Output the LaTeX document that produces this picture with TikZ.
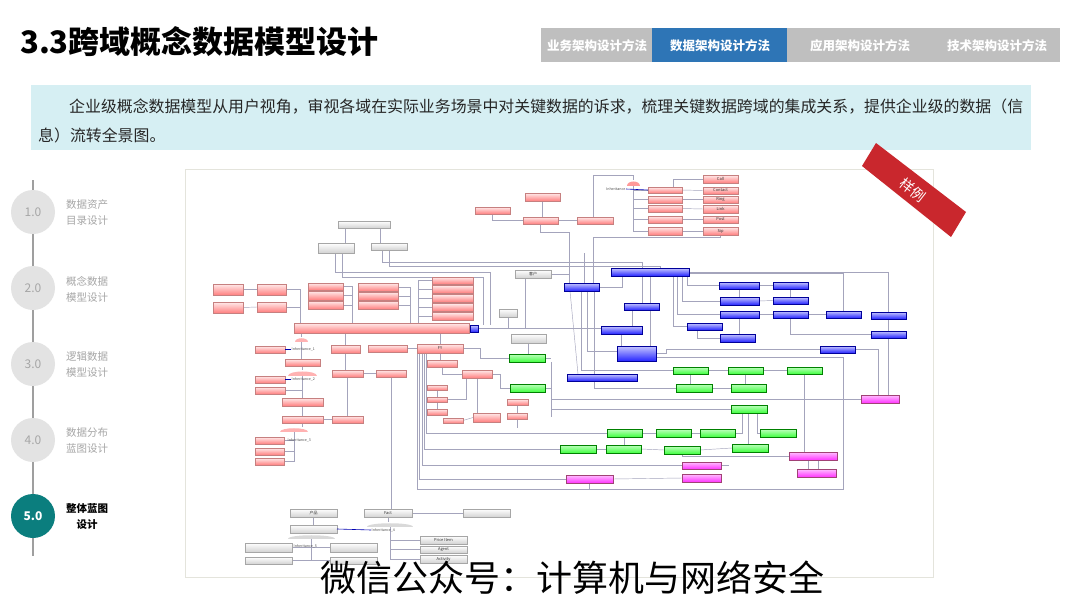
\documentclass[tikz,border=0pt]{standalone}
\usepackage{fontspec}
\setmainfont{Noto Sans CJK SC}
\definecolor{tabgray}{HTML}{BFBFBF}
\definecolor{tabblue}{HTML}{2E75B6}
\definecolor{boxcyan}{HTML}{D6EFF3}
\definecolor{tealfive}{HTML}{0B7E7E}
\definecolor{circgray}{HTML}{E3E3E3}
\definecolor{txtgray}{HTML}{A6A6A6}
\definecolor{ribbonred}{HTML}{C9272D}
\definecolor{lnk}{HTML}{A4A4BC}
\definecolor{framegray}{HTML}{E4E4DC}
\pgfdeclarelayer{bg}
\pgfsetlayers{bg,main}
\newcommand{\bx}[7]{\node[#1,minimum width={(#5-#3)*1pt},minimum height={(#6-#4)*1pt}] (#2) at (#3,#4) {#7};}
\newcommand{\pill}[6]{\node[inner sep=0pt,outer sep=0pt,anchor=north west,minimum width={(#4-#2)*1pt},minimum height={(#5-#3)*1pt}] (#1) at (#2,#3) {};
  \fill[#6] (#1.south west) .. controls (#1.north west) and (#1.north east) .. (#1.south east) -- cycle;}
\begin{document}
\begin{tikzpicture}[x=1pt,y=-1pt,
  bxb/.style={draw,line width=0.3pt,inner sep=0pt,outer sep=0pt,anchor=north west,font=\fontsize{4}{4}\selectfont,text=black!80},
  rbx/.style={bxb,draw=red!55!black!50,top color=red!8,bottom color=red!50!white},
  bbx/.style={bxb,draw=blue!60!black,top color=blue!22,bottom color=blue!85!white,text=white},
  gbx/.style={bxb,draw=green!50!black,top color=green!25,bottom color=green!75!white},
  ybx/.style={bxb,draw=gray!70,top color=white,bottom color=gray!35},
  mbx/.style={bxb,draw=magenta!60!black,top color=magenta!25,bottom color=magenta!80!white},
  lk/.style={draw=lnk,line width=0.45pt},
  blk/.style={draw=blue!70!black,line width=0.6pt},
  tiny/.style={inner sep=0.5pt,font=\fontsize{3.6}{4}\selectfont,text=black!70},
  tabtxt/.style={text=white,font=\bfseries\fontsize{12.5}{14}\selectfont},
  stepc/.style={circle,fill=circgray,minimum size=44pt,inner sep=0pt,text=txtgray,font=\fontsize{12}{14}\selectfont},
  stepl/.style={align=center,text=txtgray,font=\fontsize{10.5}{16}\selectfont}
]
\useasboundingbox (0,0) rectangle (1080,608);
\begin{pgfonlayer}{bg}
\fill[white] (0,0) rectangle (1080,608);
\filldraw[fill=white,draw=framegray,line width=0.8pt] (185,169) rectangle (933,577);
\end{pgfonlayer}

% title
\node[anchor=west,font=\bfseries\fontsize{31}{36}\selectfont,inner sep=0pt] (title) at (20,42) {3.3跨域概念数据模型设计};

% tabs
\fill[tabgray] (541,28) rectangle (1060,62);
\fill[tabblue] (652,28) rectangle (787,62);
\node[tabtxt] (t1) at (597,46) {业务架构设计方法};
\node[tabtxt] (t2) at (720,46) {数据架构设计方法};
\node[tabtxt] (t3) at (860,46) {应用架构设计方法};
\node[tabtxt] (t4) at (997,46) {技术架构设计方法};

% intro box
\fill[boxcyan] (31,85) rectangle (1031,150);
\node[anchor=west,inner sep=0pt,text=black!85,font=\fontsize{15.9}{18}\selectfont] (intro1) at (69,107) {企业级概念数据模型从用户视角，审视各域在实际业务场景中对关键数据的诉求，梳理关键数据跨域的集成关系，提供企业级的数据（信};
\node[anchor=west,inner sep=0pt,text=black!85,font=\fontsize{15.9}{18}\selectfont] (intro2) at (38,135) {息）流转全景图。};

% timeline
\draw[gray!75,line width=1.6pt] (33,180) -- (33,556);
\node[stepc] (s1) at (33,212) {1.0};
\node[stepc] (s2) at (33,288) {2.0};
\node[stepc] (s3) at (33,364) {3.0};
\node[stepc] (s4) at (33,440) {4.0};
\node[stepc,fill=tealfive,text=white,font=\bfseries\fontsize{12}{14}\selectfont] (s5) at (33,516) {5.0};
\node[stepl] (l1) at (87,213) {数据资产\\目录设计};
\node[stepl] (l2) at (87,289) {概念数据\\模型设计};
\node[stepl] (l3) at (87,365) {逻辑数据\\模型设计};
\node[stepl] (l4) at (87,441) {数据分布\\蓝图设计};
\node[stepl,text=black,font=\bfseries\fontsize{10.5}{16}\selectfont] (l5) at (87,517) {整体蓝图\\设计};

% ---------------- embedded model: boxes ----------------
% red
\bx{rbx}{r1}{525}{193}{560}{201}{}
\bx{rbx}{r2}{475}{207}{510}{214}{}
\bx{rbx}{r3}{523}{217}{558}{224}{}
\bx{rbx}{r4}{577}{217}{613}{224}{}
\bx{rbx}{r5}{213}{284}{243}{295}{}
\bx{rbx}{r6}{257}{284}{286}{295}{}
\bx{rbx}{r7}{213}{302}{243}{313}{}
\bx{rbx}{r8}{257}{302}{286}{312}{}
\bx{rbx}{r9}{308}{283}{343}{290}{}
\bx{rbx}{r10}{308}{291}{343}{300}{}
\bx{rbx}{r11}{308}{301}{343}{309}{}
\bx{rbx}{r12}{358}{283}{398}{291}{}
\bx{rbx}{r13}{358}{292}{398}{300}{}
\bx{rbx}{r14}{358}{301}{398}{309}{}
\bx{rbx}{r15}{432}{277}{473}{284}{}
\bx{rbx}{r16}{432}{285.5}{473}{293}{}
\bx{rbx}{r17}{432}{294.5}{473}{302}{}
\bx{rbx}{r18}{432}{303.5}{473}{311}{}
\bx{rbx}{r19}{432}{312.5}{473}{320}{}
\bx{rbx}{rbar}{294}{323}{469}{333}{}
\bx{rbx}{r20}{255}{346}{285}{353}{}
\bx{rbx}{r21}{331}{345}{360}{353}{}
\bx{rbx}{r22}{368}{345}{407}{352}{}
\bx{rbx}{r23}{417}{344}{463}{353}{FY}
\bx{rbx}{r24}{285}{359}{320}{366}{}
\bx{rbx}{r25}{427}{360}{457}{367}{}
\bx{rbx}{r26}{255}{376}{285}{383}{}
\bx{rbx}{r27}{255}{387}{285}{394}{}
\bx{rbx}{r28}{282}{398}{323}{406}{}
\bx{rbx}{r29}{282}{416}{323}{423}{}
\bx{rbx}{r30}{332}{416}{363}{423}{}
\bx{rbx}{r31}{332}{370}{363}{377}{}
\bx{rbx}{r32}{376}{370}{406}{377}{}
\bx{rbx}{r33}{255}{437}{284}{444}{}
\bx{rbx}{r34}{255}{448}{284}{455}{}
\bx{rbx}{r35}{255}{458}{284}{465}{}
\bx{rbx}{r36}{427}{385}{447}{390}{}
\bx{rbx}{r37}{427}{397}{447}{402}{}
\bx{rbx}{r38}{427}{409}{447}{415}{}
\bx{rbx}{r39}{443}{418}{463}{423}{}
\bx{rbx}{r40}{473}{413}{500}{422}{}
\bx{rbx}{r41}{507}{413}{527}{419}{}
\bx{rbx}{r42}{507}{399}{528}{405}{}
\bx{rbx}{r43}{462}{370}{492}{378}{}
\bx{rbx}{c1}{703}{175}{738}{183}{Call}
\bx{rbx}{c2}{703}{187}{738}{194}{Contact}
\bx{rbx}{c3}{703}{196}{738}{203}{Ring}
\bx{rbx}{c4}{703}{205}{738}{213}{Link}
\bx{rbx}{c5}{703}{216}{738}{223}{Post}
\bx{rbx}{c6}{703}{227}{738}{235}{Sip}
\bx{rbx}{c7}{648}{187}{682}{193}{}
\bx{rbx}{c8}{648}{196}{682}{203}{}
\bx{rbx}{c9}{648}{205}{682}{212}{}
\bx{rbx}{c10}{648}{216}{682}{223}{}
\bx{rbx}{c11}{648}{227}{682}{235}{}
% gray
\bx{ybx}{g1}{338}{221}{390}{228}{}
\bx{ybx}{g2}{318}{243}{354}{253}{}
\bx{ybx}{g3}{371}{243}{407}{250}{}
\bx{ybx}{g4}{515}{270}{551}{278}{客户}
\bx{ybx}{g5}{499}{309}{517}{317}{}
\bx{ybx}{g6}{511}{334}{546}{343}{}
\bx{ybx}{g7}{290}{509}{337}{517}{产品}
\bx{ybx}{g8}{364}{509}{412}{517}{Fact}
\bx{ybx}{g9}{463}{509}{510}{517}{}
\bx{ybx}{g10}{290}{525}{337}{533}{}
\bx{ybx}{g11}{245}{543}{292}{552}{}
\bx{ybx}{g12}{330}{543}{377}{552}{}
\bx{ybx}{g13}{245}{557}{292}{564}{}
\bx{ybx}{g14}{330}{557}{377}{564}{}
\bx{ybx}{g15}{420}{536}{467}{544}{Price Item}
\bx{ybx}{g16}{420}{546}{467}{553}{Agent}
\bx{ybx}{g17}{420}{555}{467}{563}{Activity}
% blue
\bx{bbx}{b1}{611}{268}{689}{276}{}
\bx{bbx}{b2}{564}{283}{599}{291}{}
\bx{bbx}{b3}{719}{282}{759}{289}{}
\bx{bbx}{b4}{773}{282}{808}{289}{}
\bx{bbx}{b5}{720}{297}{759}{305}{}
\bx{bbx}{b6}{773}{297}{808}{304}{}
\bx{bbx}{b7}{720}{311}{759}{318}{}
\bx{bbx}{b8}{773}{311}{808}{318}{}
\bx{bbx}{b9}{826}{311}{861}{318}{}
\bx{bbx}{b10}{871}{312}{906}{319}{}
\bx{bbx}{b11}{624}{303}{659}{310}{}
\bx{bbx}{b12}{601}{326}{642}{334}{}
\bx{bbx}{b13}{687}{323}{722}{330}{}
\bx{bbx}{b14}{720}{334}{755}{342}{}
\bx{bbx}{b15}{871}{331}{906}{338}{}
\bx{bbx}{b16}{617}{346}{656}{361}{}
\bx{bbx}{b17}{820}{346}{855}{353}{}
\bx{bbx}{b18}{567}{374}{637}{381}{}
\bx{bbx}{b19}{470}{325}{478}{332}{}
% green
\bx{gbx}{gr1}{509}{354}{545}{362}{}
\bx{gbx}{gr2}{510}{384}{545}{392}{}
\bx{gbx}{gr3}{673}{367}{708}{374}{}
\bx{gbx}{gr4}{728}{367}{763}{374}{}
\bx{gbx}{gr5}{787}{367}{822}{374}{}
\bx{gbx}{gr6}{676}{384}{712}{392}{}
\bx{gbx}{gr7}{731}{384}{766}{392}{}
\bx{gbx}{gr8}{731}{405}{767}{413}{}
\bx{gbx}{gr9}{607}{429}{642}{437}{}
\bx{gbx}{gr10}{656}{429}{691}{437}{}
\bx{gbx}{gr11}{700}{429}{735}{437}{}
\bx{gbx}{gr12}{760}{429}{796}{437}{}
\bx{gbx}{gr13}{560}{445}{596}{453}{}
\bx{gbx}{gr14}{606}{445}{641}{453}{}
\bx{gbx}{gr15}{664}{446}{700}{454}{}
\bx{gbx}{gr16}{732}{444}{768}{452}{}
% magenta
\bx{mbx}{m1}{861}{395}{899}{403}{}
\bx{mbx}{m2}{789}{452}{837}{460}{}
\bx{mbx}{m3}{682}{462}{721}{469}{}
\bx{mbx}{m4}{797}{469}{836}{477}{}
\bx{mbx}{m5}{566}{475}{613}{483}{}
\bx{mbx}{m6}{682}{474}{721}{482}{}
% pills
\pill{p1}{295}{337}{308}{342}{red!30}
\pill{p2}{288}{370}{317}{376}{red!30}
\pill{p3}{280}{427}{308}{432}{red!30}
\pill{p4}{367}{522}{413}{527}{gray!30}
\pill{p5}{288}{534}{335}{539}{gray!30}
\pill{p6}{627}{180}{640}{186}{red!40}
% inheritance labels
\node[tiny,anchor=east] (i0) at (626,189) {Inheritance};
\node[tiny,anchor=west] (i1) at (291,349.5) {Inheritance\_1};
\node[tiny,anchor=west] (i2) at (291,379.5) {Inheritance\_2};
\node[tiny,anchor=west] (i3) at (287,440.5) {Inheritance\_3};
\node[tiny,anchor=west] (i4) at (371,530) {Inheritance\_4};
\node[tiny,anchor=west] (i5) at (293,546) {Inheritance\_5};

% ---------------- connectors ----------------
\begin{pgfonlayer}{bg}
\draw[lk] (r1.south) -- (r1.south |- r3.north);
\draw[lk] (r2.south) |- (r3.west);
\draw[lk] (r3.east) -- (r4.west);
\draw[lk] (r3.south) -- ++(0,8) -| ([xshift=5pt]b2.north west);
\draw[lk] ([xshift=-2pt]r4.north) -- ++(0,-42) -| (p6.north);
\foreach \c in {c7,c8,c9,c10,c11} \draw[lk] (p6.south) |- (\c.west);
\draw[lk] (c7.east) -- (c2.west);
\draw[lk] (c8.east) -- (c3.west);
\draw[lk] (c9.east) -- (c4.west);
\draw[lk] (c10.east) -- (c5.west);
\draw[lk] (c11.east) -- (c6.west);
\draw[lk] (c1.west) -| ([xshift=8pt]c7.north);
\draw[lk] (c6.south) -- ++(0,2) -| ([xshift=29pt]b2.north west);
\draw[lk] ([xshift=20pt]b2.north west) -- ++(0,-30);
\draw[lk] (b2.east) -| ([xshift=11pt]b1.south west);
\draw[lk] ([xshift=11pt]g3.south west) -- ++(0,12) -| ([xshift=31pt]b1.north west);
\draw[lk] ([xshift=18pt]g3.south west) -- ++(0,16) -| ([xshift=49pt]b1.north west);
\draw[lk] ([xshift=17pt]g2.south west) -- ++(0,19) -| ([xshift=12pt]b19.north east);
\draw[lk] ([xshift=24pt]g2.south west) -- ++(0,24) -| ([xshift=5pt]b19.north east);
\draw[lk] ([xshift=7pt]g1.south west) -- ([xshift=27pt]g2.north west);
\draw[lk] ([xshift=42pt]g1.south west) -- ([xshift=9pt]g3.north west);
\draw[lk] (b1.east) -| (b10.north);
\draw[lk] ([yshift=-1.5pt]b1.east) -| (b9.north);
\draw[lk] ([xshift=-2pt]b1.south east) |- (b3.west);
\draw[lk] ([xshift=-7pt]b1.south east) |- (b5.west);
\draw[lk] ([xshift=-12pt]b1.south east) |- (b7.west);
\draw[lk] ([xshift=-16pt]b1.south east) |- (b13.west);
\draw[lk] (b3.east) -- (b4.west);
\draw[lk] (b5.east) -- (b6.west);
\draw[lk] (b7.east) -- (b8.west);
\draw[lk] (b8.east) -- (b9.west);
\draw[lk] (b3.south) -- (b3.south |- b5.north);
\draw[lk] (b4.south) -- (b4.south |- b6.north);
\draw[lk] (b7.south) -- (b7.south |- b14.north);
\draw[lk] ([xshift=10pt]b13.south west) |- (b14.west);
\draw[lk] ([xshift=17pt]b8.south west) |- (b15.west);
\draw[lk] (b10.south) -- (b15.north);
\draw[lk] ([xshift=31pt]b1.south west) -- ([xshift=18pt]b11.north west);
\draw[lk] ([xshift=8pt]b11.south west) -- ([xshift=31pt]b12.north west);
\draw[lk] ([xshift=39pt]b1.south west) -- ([xshift=33pt]b16.north west);
\draw[lk] (rbar.east) -- (b19.west);
\draw[lk] (b19.east) -- (b19.east -| b12.west);
\draw[lk] ([xshift=6pt]b2.south west) -- ([xshift=11pt]b18.north west);
\draw[lk] ([xshift=17pt]b2.south west) |- (gr3.west);
\draw[lk] ([xshift=23pt]b2.south west) |- ([yshift=2pt]b16.west);
\draw[lk] ([xshift=30pt]b2.south west) |- (gr6.west);
\draw[lk] (b12.south) -- ++(0,12);
\draw[lk] (b16.east) -- ++(10,0) |- (b17.west);
\draw[lk] ([yshift=-3.5pt]b16.east) -| (843,489) -| (r23.south west);
\draw[lk] (b17.east) -| ([xshift=17pt]m1.north west);
\draw[lk] (b15.south) -- (b15.south |- m1.north);
\draw[lk] (m1.west) -- ++(-310,0);
\draw[lk] (gr3.east) -- (gr4.west);
\draw[lk] (gr4.east) -- (gr5.west);
\draw[lk] (gr3.south) -- (gr3.south |- gr6.north);
\draw[lk] (gr4.south) -- (gr4.south |- gr7.north);
\draw[lk] (gr6.east) -- (gr7.west);
\draw[lk] (gr5.south) -- (gr5.south |- m2.north);
\draw[lk] (gr8.west) -- ++(-180,0);
\draw[lk] ([xshift=11pt]gr8.south west) |- (gr11.east);
\draw[lk] ([xshift=17pt]gr8.south west) -- ([xshift=16pt]gr16.north west);
\draw[lk] ([xshift=26pt]gr8.south west) |- (gr12.west);
\draw[lk] (gr9.east) -- (gr10.west);
\draw[lk] (gr10.east) -- (gr11.west);
\draw[lk] (gr9.south) -- (gr9.south |- gr14.north);
\draw[lk] (gr13.east) -- (gr14.west);
\draw[lk] (gr14.east) -- (gr15.west);
\draw[lk] (gr15.east) -- (gr16.west);
\draw[lk] (gr15.south) |- (m2.west);
\draw[lk] ([xshift=-5pt]m2.south) -- ([xshift=-5pt]m2.south |- m4.north);
\draw[lk] ([xshift=5pt]m2.south) -- ([xshift=5pt]m2.south |- m4.north);
\draw[lk] (m5.east) -- (m6.west);
\draw[lk] (m3.east) -- ++(8,0);
\draw[lk] (m5.south) -- ++(0,6);
\draw[lk] (g6.south) -- (g6.south |- gr1.north);
\draw[lk] (r23.east) -- ++(17,0) |- (gr1.west);
\draw[lk] (gr1.east) -- ++(6,0);
\draw[lk] ([xshift=6pt]gr1.south east) -- ++(0,55);
\draw[lk] (r43.east) -- ++(8,0) |- (gr2.west);
\draw[lk] ([xshift=2pt]r23.south west) |- (m5.west);
\draw[lk] ([xshift=5pt]r23.south west) |- (m3.west);
\draw[lk] ([xshift=7pt]r23.south west) |- (gr13.west);
\draw[lk] ([xshift=9pt]r23.south west) |- (gr9.west);
% red block
\draw[lk] (r5.east) -- (r6.west);
\draw[lk] (r7.east) -- (r8.west);
\draw[lk] (r6.east) -| ([xshift=6pt]rbar.north west);
\draw[lk] (r8.east) -| ([xshift=6pt]rbar.north west);
\foreach \r in {r9,r10,r11} \draw[lk] (\r.east) -| ([xshift=58pt]rbar.north west);
\foreach \r in {r12,r13,r14} \draw[lk] (\r.east) -| ([xshift=116pt]rbar.north west);
\foreach \r in {r15,r16,r17,r18,r19} \draw[lk] (\r.west) -| ([xshift=124pt]rbar.north west);
\draw[lk] ([xshift=51.5pt]rbar.south west) -- (r21.north);
\draw[lk] (r23.north) -- (r23.north |- rbar.south);
\draw[lk] (p1.north) -- (p1.north |- rbar.south);
\draw[lk] (r21.south) -- (r21.south |- r31.north);
\draw[lk] (r31.south) -- (r31.south |- r30.north);
\draw[lk] (r31.east) -- (r32.west);
\draw[lk] (r22.east) -- (r23.west);
\draw[lk] (r32.south) -- (r32.south |- g8.north);
\draw[lk] (p1.south) -- (p1.south |- r24.north);
\draw[lk] (r24.south) -- (p2.north);
\draw[lk] (p2.south) -- (r28.north);
\draw[lk] (r28.south) -- (r29.north);
\draw[lk] (r29.south) -- (r29.south |- p3.north);
\draw[lk] (r27.east) -- (r27.east -| p2.south);
\draw[lk] (r29.east) -- (r30.west);
\foreach \r in {r33,r34,r35} \draw[lk] (p3.south) |- (\r.east);
\draw[lk] (r23.south) -- (r23.south |- r25.north);
\draw[lk] (r25.south) |- (r43.west);
\draw[lk] (r43.south) -- (r43.south |- r40.north);
\draw[lk] ([xshift=4pt]r43.south west) |- (r37.east);
\draw[lk] (r36.south) -- (r37.north);
\draw[lk] (r37.south) -- (r38.north);
\draw[lk] (r39.east) -- (r40.west);
\draw[lk] (r42.south) -- (r42.south |- r41.north);
\draw[lk] (r41.south) -- ++(0,9);
\draw[lk] (g5.south) -- ++(0,12);
\draw[lk] (g4.east) -- ++(18,0);
\draw[lk] ([xshift=10pt]g4.south west) -- ++(0,50);
\draw[lk] (gr2.east) -- ++(6,0);
% bottom group
\draw[lk] (g7.south) -- (g10.north);
\draw[lk] (g8.east) -- (g9.west);
\draw[lk] (g8.south) -- (g8.south |- p4.north);
\foreach \g in {g15,g16,g17} \draw[lk] (p4.south) |- (\g.west);
\draw[lk] (g10.south) -- (g10.south |- p5.north);
\draw[lk] (p5.south) |- (g11.east);
\draw[lk] (p5.south) |- (g12.west);
\draw[lk] (p5.south) |- (g13.east);
\draw[lk] (p5.south) |- (g14.west);
\end{pgfonlayer}
% blue inheritance lines
\draw[blk] (i0.east) -- (c7.west);
\draw[blk] (r20.east) -- (i1.west);
\draw[blk] (r26.east) -- (i2.west);
\draw[blk] (g10.east) -- (i4.west);

% sample ribbon
\fill[ribbonred] (862,166) -- (876,143) -- (966,212) -- (951,237) -- cycle;
\node[text=white,rotate=-38,inner sep=0pt,font=\fontsize{14}{16}\selectfont] (rib) at (913,190) {样例};

% watermark
\node[inner sep=0pt,font=\fontsize{36}{40}\selectfont] (wm) at (572,578) {微信公众号：计算机与网络安全};
\end{tikzpicture}
\end{document}
